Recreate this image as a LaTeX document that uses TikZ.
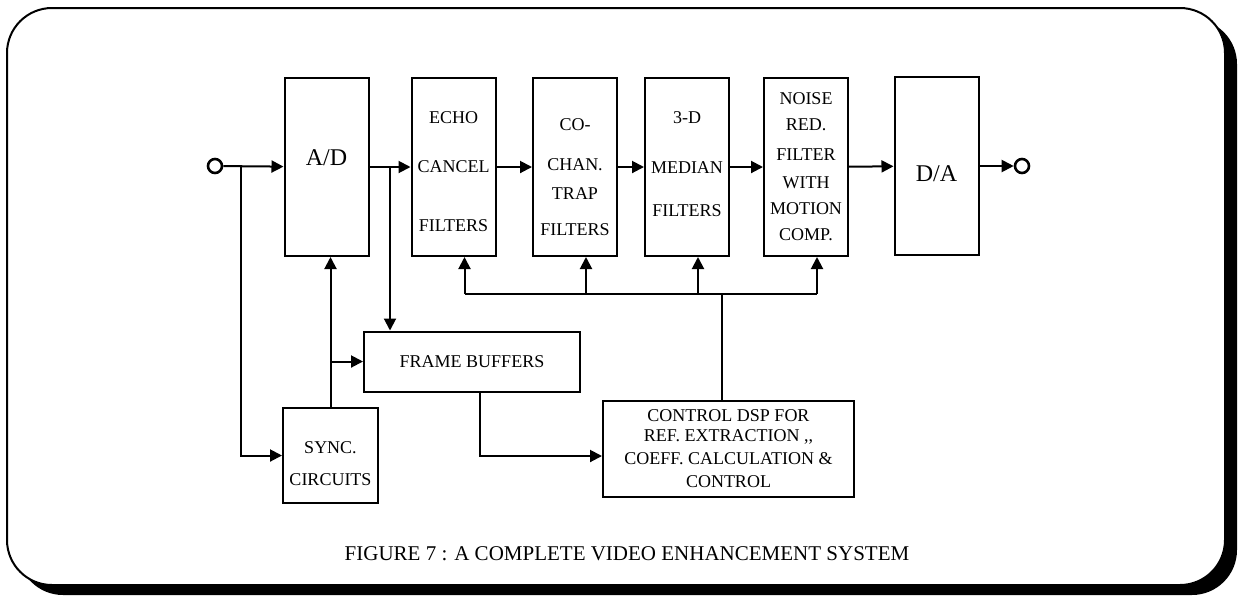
\documentclass[tikz,border=0pt]{standalone}
\usepackage{fontspec}
\setmainfont{Liberation Serif}
\usetikzlibrary{arrows.meta,positioning,calc}
\tikzset{
  font=\fontsize{9}{10}\selectfont,
  >={Triangle[length=6pt,width=6pt]},
  blk/.style={draw=black, line width=1pt, fill=white, inner sep=0pt,
    minimum width=42pt, minimum height=89pt},
  wide/.style={blk, minimum height=30pt, align=center},
  txt/.style={align=center, inner sep=0pt},
  bigtxt/.style={txt, font=\fontsize{12}{14}\selectfont},
  port/.style={circle, draw=black, line width=1.3pt, fill=white,
    minimum size=7pt, inner sep=0pt},
  wire/.style={line width=1pt},
  flow/.style={->, line width=1pt},
  frame/.style={rounded corners=22.5pt, draw=black, line width=1pt, fill=white},
  shade/.style={rounded corners=22.5pt, fill=black}
}

\begin{document}
\begin{tikzpicture}[x=0.5pt,y=-0.5pt]
  \useasboundingbox (0,0) rectangle (1238,596);

  % frame with drop shadow
  \fill[shade] (18,19) rectangle (1237,595);
  \draw[frame] (7,8) rectangle (1225,585);

  % main signal path
  \node[port] (in)  at (215,166) {};
  \node[blk] (ad)     at (326.5,167) {};
  \node[blk] (echo)   at (453.5,167) {};
  \node[blk] (cochan) at (575,167)   {};
  \node[blk] (median) at (687,167)   {};
  \node[blk] (noise)  at (806,167)   {};
  \node[blk] (da)     at (936.5,166) {};
  \node[port] (out) at (1022,166) {};

  \node[bigtxt] (ad-t)     at ([yshift=4.5pt]ad)      {A/D};
  \node[txt]    (echo-t)   at ([yshift=-2.2pt]echo)   {ECHO\\[14.5pt]CANCEL\\[19.5pt]FILTERS};
  \node[txt]    (cochan-t) at ([yshift=-5.2pt]cochan) {CO-\\[10pt]CHAN.\\[4.5pt]TRAP\\[8pt]FILTERS};
  \node[txt]    (median-t) at ([yshift=1.5pt]median)  {3-D\\[15pt]MEDIAN\\[11.5pt]FILTERS};
  \node[txt]    (noise-t)  at (noise)                 {NOISE\\[3pt]RED.\\[5pt]FILTER\\[4pt]WITH\\[3pt]MOTION\\[3pt]COMP.};
  \node[bigtxt] (da-t)     at ([yshift=-4pt]da)       {D/A};

  % lower blocks
  \node[wide, minimum width=108pt] (fb)   at (472,361.5) {FRAME BUFFERS};
  \node[blk, minimum width=47.5pt, minimum height=47.5pt] (sync) at (330.5,455.5) {};
  \node[txt] (sync-t) at ([yshift=-4pt]sync) {SYNC.\\[6pt]CIRCUITS};
  \node[wide, minimum width=125.5pt, minimum height=48pt] (ctrl) at (728.5,449)
    {CONTROL DSP FOR\\REF. EXTRACTION ,{},\\[1.5pt]COEFF. CALCULATION \&\\[1.5pt]CONTROL};

  \node[font=\fontsize{10.5}{12}\selectfont] (cap) at (627,554)
    {FIGURE 7 : A COMPLETE VIDEO ENHANCEMENT SYSTEM};

  % edges
  \draw[flow] (in) -- (ad);
  \draw[flow] (ad) -- (echo);
  \draw[flow] (echo) -- (cochan);
  \draw[flow] (cochan) -- (median);
  \draw[flow] (median) -- (noise);
  \draw[flow] (noise) -- (da);
  \draw[flow] (da) -- (out);

  \coordinate (in-br) at (241,166);
  \draw[flow] (in-br) |- (sync);
  \draw[flow] (sync) -- (sync |- ad.south);
  \draw[flow] (sync |- fb) -- (fb);

  \coordinate (ad-br) at (390,166);
  \draw[flow] (ad-br) -- (ad-br |- fb.north);

  \coordinate (fb-out) at ([xshift=4pt]fb.south);
  \draw[flow] (fb-out) |- ([yshift=-3.5pt]ctrl.west);

  % control bus
  \coordinate (bus) at (721,294);
  \coordinate (ctrl-out) at ([xshift=-3.5pt]ctrl.north);
  \draw[wire] (ctrl-out) -- (ctrl-out |- bus);
  \foreach \b in {echo,cochan,median,noise}{
    \coordinate (\b-in) at ([xshift=5.5pt]\b.south);
    \draw[flow] (\b-in |- bus) -- (\b-in);
  }
  \draw[wire] (echo-in |- bus) -- (noise-in |- bus);
\end{tikzpicture}
\end{document}
